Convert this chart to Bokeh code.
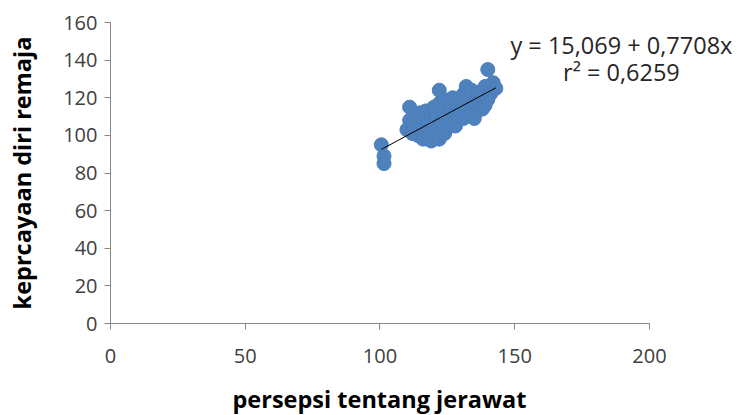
from bokeh.plotting import figure
from bokeh.models import Range1d, Label, FixedTicker, Title
from bokeh.embed import file_html
from bokeh.resources import INLINE

# data
persepsi = [100.5, 101.5, 101.5,
            110, 111, 111, 112, 112, 113, 113, 114, 114, 115, 115, 116, 116, 116,
            117, 117, 118, 118, 119, 119, 120, 120, 120, 121, 121, 122, 122, 122,
            123, 123, 124, 124, 125, 125, 126, 126, 127, 127, 128, 128, 129, 129,
            130, 130, 131, 131, 132, 132, 133, 133, 134, 134, 135, 135, 136, 136,
            137, 137, 138, 138, 139, 139, 140, 140, 141, 142, 143]
kepercayaan = [95, 89, 85,
               103, 115, 108, 101, 106, 104, 110, 100, 107, 112, 103, 98, 105, 109,
               113, 101, 104, 108, 97, 111, 100, 106, 115, 103, 110, 124, 98, 117,
               107, 113, 101, 119, 110, 104, 114, 117, 108, 120, 105, 112, 116, 110,
               118, 113, 122, 109, 126, 115, 119, 111, 124, 114, 117, 109, 121, 113,
               118, 123, 114, 120, 126, 116, 135, 119, 122, 128, 125]
intercept = 15.069
slope = 0.7708
r2 = 0.6259
x_ticks = [0, 50, 100, 150, 200]
y_ticks = [0, 20, 40, 60, 80, 100, 120, 140, 160]
x_title = "persepsi tentang jerawat"
y_title = "keprcayaan diri remaja"

FONT = "Open Sans"
AXIS_COLOR = "#868686"

p = figure(width=736, height=414, output_backend="svg", toolbar_location=None,
           x_range=Range1d(0, 232.3), y_range=Range1d(0, 160),
           min_border_left=110, min_border_top=22, min_border_right=0,
           min_border_bottom=90)
p.outline_line_color = None
p.grid.visible = False
p.background_fill_color = "white"

p.scatter(persepsi, kepercayaan, size=14, fill_color="#4F81BD",
          line_color="#4A7EBB", line_width=1)

x0, x1 = min(persepsi), max(persepsi)
p.line([x0, x1], [intercept + slope * x0, intercept + slope * x1],
       line_color="black", line_width=1)

for ax, ticks in ((p.xaxis[0], x_ticks), (p.yaxis[0], y_ticks)):
    ax.ticker = FixedTicker(ticks=ticks)
    ax.axis_line_color = AXIS_COLOR
    ax.major_tick_line_color = AXIS_COLOR
    ax.major_tick_out = 6
    ax.major_tick_in = 0
    ax.minor_tick_line_color = None
    ax.major_label_text_font = FONT
    ax.major_label_text_font_size = "20px"
    ax.major_label_text_color = "#404040"
    ax.axis_label_text_font = FONT
    ax.axis_label_text_font_size = "23.5px"
    ax.axis_label_text_font_style = "bold"
    ax.axis_label_text_color = "black"

p.xaxis.bounds = (0, 200)
p.yaxis.axis_label = y_title
p.xaxis.major_label_standoff = 19
p.yaxis.major_label_standoff = 7
p.yaxis.axis_label_standoff = 22

xt = Title(text=x_title, align="left", offset=122, vertical_align="bottom",
           text_font=FONT, text_font_size="23.5px",
           text_font_style="bold", text_color="black", standoff=0)
try:
    xt.padding = dict(top=15, right=0, bottom=0, left=0)
except Exception:
    try:
        xt.padding = (15, 0, 0, 0)
    except Exception:
        xt.standoff = 15
p.add_layout(xt, "below")

eq1 = "y = " + f"{intercept:.3f}".replace(".", ",") + " + " + f"{slope:.4f}".replace(".", ",") + "x"
eq2 = "r² = " + f"{r2:.4f}".replace(".", ",")
p.add_layout(Label(x=189.6, y=148.3, text=eq1,
                   text_align="center", text_baseline="middle",
                   text_font=FONT, text_font_size="23.5px", text_color="#262626"))
p.add_layout(Label(x=189.6, y=133.5, text=eq2,
                   text_align="center", text_baseline="middle",
                   text_font=FONT, text_font_size="23.5px", text_color="#262626"))

open("out.html", "w").write(file_html(p, INLINE))
